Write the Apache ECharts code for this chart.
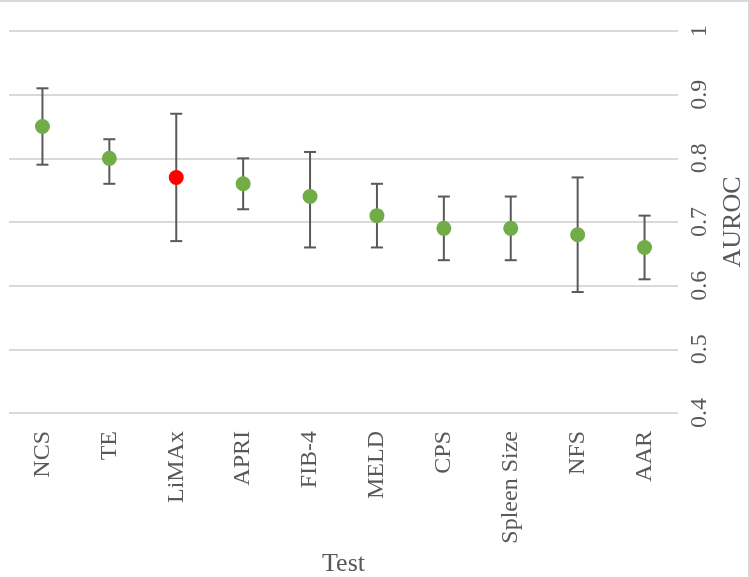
<!DOCTYPE html>
<html>
<head>
<meta charset="utf-8">
<script src="https://cdn.jsdelivr.net/npm/echarts@6/dist/echarts.min.js"></script>
<style>
  html, body { margin: 0; padding: 0; background: #fff; }
  #main { width: 750px; height: 577px; }
</style>
</head>
<body>
<div id="main"></div>
<script>
// data
const tests = ["NCS", "TE", "LiMAx", "APRI", "FIB-4", "MELD", "CPS", "Spleen Size", "NFS", "AAR"];
const auroc = [0.85, 0.80, 0.77, 0.76, 0.74, 0.71, 0.69, 0.69, 0.68, 0.66];
const lower = [0.79, 0.76, 0.67, 0.72, 0.66, 0.66, 0.64, 0.64, 0.59, 0.61];
const upper = [0.91, 0.83, 0.87, 0.80, 0.81, 0.76, 0.74, 0.74, 0.77, 0.71];
const highlighted = "LiMAx";

const font = "'Liberation Serif', 'Times New Roman', serif";
const grey = "#595959";

const myChart = echarts.init(document.getElementById("main"));

const option = {
  animation: false,
  grid: { left: 9, right: 72, top: 31, bottom: 164, outerBoundsMode: "none" },
  xAxis: {
    type: "category",
    data: tests,
    name: "Test",
    nameLocation: "middle",
    nameGap: 122,
    nameTextStyle: { fontFamily: font, fontSize: 26, color: grey },
    axisLine: { show: false },
    axisTick: { show: false },
    axisLabel: {
      rotate: 90,
      interval: 0,
      margin: 18,
      fontFamily: font,
      fontSize: 24,
      color: grey,
    },
  },
  yAxis: {
    type: "value",
    position: "right",
    min: 0.4,
    max: 1,
    interval: 0.1,
    name: "AUROC",
    nameLocation: "middle",
    nameRotate: 90,
    nameGap: 40,
    nameTextStyle: { fontFamily: font, fontSize: 26, color: grey },
    axisLine: { show: false },
    axisTick: { show: false },
    axisLabel: {
      rotate: 90,
      margin: 10,
      fontFamily: font,
      fontSize: 24,
      color: grey,
      formatter: (v) => (Math.abs(v - 1) < 1e-9 ? "1" : v.toFixed(1)),
    },
    splitLine: { lineStyle: { color: "#d9d9d9", width: 2 } },
  },
  graphic: [
    { type: "line", shape: { x1: 0, y1: 1, x2: 750, y2: 1 }, style: { stroke: "#d9d9d9", lineWidth: 2 } },
    { type: "line", shape: { x1: 749, y1: 0, x2: 749, y2: 577 }, style: { stroke: "#d9d9d9", lineWidth: 2 } },
  ],
  series: [
    {
      type: "custom",
      name: "CI",
      data: tests.map((t, i) => [i, lower[i], upper[i]]),
      renderItem: (params, api) => {
        const lo = api.coord([api.value(0), api.value(1)]);
        const hi = api.coord([api.value(0), api.value(2)]);
        const half = 6;
        const style = { stroke: grey, lineWidth: 2 };
        return {
          type: "group",
          children: [
            { type: "line", shape: { x1: lo[0], y1: lo[1], x2: hi[0], y2: hi[1] }, style },
            { type: "line", shape: { x1: hi[0] - half, y1: hi[1], x2: hi[0] + half, y2: hi[1] }, style },
            { type: "line", shape: { x1: lo[0] - half, y1: lo[1], x2: lo[0] + half, y2: lo[1] }, style },
          ],
        };
      },
      z: 2,
    },
    {
      type: "scatter",
      name: "AUROC",
      symbolSize: 15,
      data: auroc.map((v, i) => ({
        value: v,
        itemStyle: { color: tests[i] === highlighted ? "#ff0000" : "#70ad47", opacity: 1 },
      })),
      z: 3,
    },
  ],
};

myChart.setOption(option);
</script>
</body>
</html>
